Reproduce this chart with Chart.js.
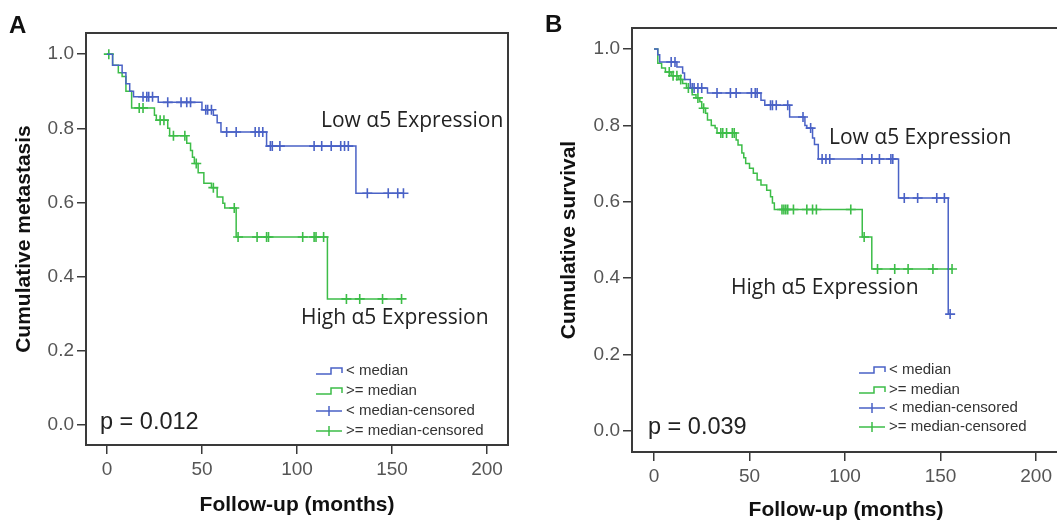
<!DOCTYPE html>
<html>
<head>
<meta charset="utf-8">
<script src="https://cdn.jsdelivr.net/npm/chart.js@4/dist/chart.umd.min.js"></script>
<style>
  html, body { margin: 0; padding: 0; background: #fff; overflow: hidden; }
  #wrap { position: relative; width: 1057px; height: 523px; overflow: hidden; }
  canvas { position: absolute; top: 0; }
  #chartA { left: 0; }
  #chartB { left: 530px; }
</style>
</head>
<body>
<div id="wrap">
  <canvas id="chartA" width="530" height="523"></canvas>
  <canvas id="chartB" width="530" height="523"></canvas>
</div>
<script>
// axis ticks
const xTicks = [0, 50, 100, 150, 200];
const yTicks = [0, 0.2, 0.4, 0.6, 0.8, 1.0];

// Panel A - metastasis, low expression (< median)
const aLowTimes = [0, 3, 8, 10, 12, 14, 27, 50, 56, 58, 60, 84, 131];
const aLowSurv = [1.0, 0.97, 0.95, 0.92, 0.90, 0.885, 0.87, 0.85, 0.835, 0.815, 0.79, 0.752, 0.625];
const aLowCensored = [19, 21, 22, 24, 32, 39, 42, 44, 52, 53, 55, 63, 68, 78, 80, 82, 86, 87, 91, 109, 113, 118, 123, 125, 127, 137, 148, 153, 156];

// Panel A - high expression (>= median)
const aHighTimes = [0, 3, 6, 8, 10, 13, 25, 26, 32, 33, 42, 44, 45, 46, 48, 51, 55, 58, 61, 62, 68, 116];
const aHighSurv = [1.0, 0.97, 0.95, 0.94, 0.90, 0.855, 0.835, 0.822, 0.80, 0.78, 0.76, 0.74, 0.722, 0.705, 0.68, 0.652, 0.64, 0.615, 0.598, 0.585, 0.507, 0.34];
const aHighCensored = [1, 17, 19, 28, 30, 35, 41, 47, 56, 67, 69, 79, 84, 85, 103, 109, 110, 114, 126, 133, 145, 155];

// Panel B - survival, low expression
const bLowTimes = [0, 2, 3, 12, 15, 16, 19, 28, 56, 58, 71, 79, 80, 83, 84, 86, 128, 154];
const bLowSurv = [1.0, 0.985, 0.966, 0.953, 0.937, 0.92, 0.898, 0.885, 0.866, 0.853, 0.822, 0.80, 0.793, 0.767, 0.75, 0.712, 0.61, 0.306];
const bLowCensored = [9, 11, 20, 21, 23, 25, 33, 40, 43, 51, 53, 54, 61, 62, 64, 70, 78, 82, 88, 90, 92, 109, 114, 118, 124, 125, 131, 138, 148, 152, 155];

// Panel B - high expression
const bHighTimes = [0, 2, 4, 6, 9, 13, 15, 17, 20, 22, 24, 25, 27, 28, 30, 32, 33, 43, 44, 46, 47, 48, 50, 52, 54, 56, 59, 61, 62, 63, 109, 114];
const bHighSurv = [1.0, 0.963, 0.95, 0.94, 0.93, 0.92, 0.91, 0.898, 0.88, 0.872, 0.862, 0.845, 0.832, 0.814, 0.80, 0.793, 0.78, 0.762, 0.749, 0.728, 0.715, 0.70, 0.688, 0.675, 0.657, 0.644, 0.63, 0.613, 0.597, 0.58, 0.508, 0.424];
const bHighCensored = [8, 10, 12, 14, 18, 23, 26, 35, 36, 38, 41, 42, 67, 68, 69, 70, 73, 80, 83, 85, 103, 110, 117, 126, 133, 146, 156];

const BLUE = '#4a62c6';
const GREEN = '#3dbd48';
const FRAME = '#3a3a3a';

// value of the step curve at time t
function survAt(times, surv, t) {
    let s = surv[0];
    for (let i = 0; i < times.length; i++) {
        if (times[i] <= t) s = surv[i];
    }
    return s;
}

function curvePoints(times, surv, censored) {
    const pts = times.map((t, i) => ({ x: t, y: surv[i] }));
    const end = Math.max(times[times.length - 1], censored[censored.length - 1]);
    pts.push({ x: end, y: surv[surv.length - 1] });
    return pts;
}

function censorPoints(times, surv, censored) {
    return censored.map(t => ({ x: t, y: survAt(times, surv, t) }));
}

// draws frame, panel letter, annotations and legend
const decorPlugin = {
    id: 'decor',
    afterDraw(chart) {
        const d = chart.options.plugins.decor;
        const ctx = chart.ctx;
        const a = chart.chartArea;
        ctx.save();
        ctx.strokeStyle = FRAME;
        ctx.lineWidth = 2;
        ctx.strokeRect(a.left, a.top, a.right - a.left, a.bottom - a.top);

        ctx.fillStyle = '#111';
        ctx.textBaseline = 'middle';
        ctx.textAlign = 'left';
        ctx.font = 'bold 24px "Liberation Sans", Arial, sans-serif';
        ctx.fillText(d.letter, d.letterX, d.letterY);

        ctx.fillStyle = '#222';
        ctx.font = '21px "Open Sans", sans-serif';
        ctx.fillText('Low \u03b15 Expression', d.lowX, d.lowY);
        ctx.fillText('High \u03b15 Expression', d.highX, d.highY);

        ctx.font = '23.5px "Liberation Sans", Arial, sans-serif';
        ctx.fillText(d.pText, d.pX, d.pY);

        // legend
        const items = [
            { text: '< median', color: BLUE, kind: 'step' },
            { text: '>= median', color: GREEN, kind: 'step' },
            { text: '< median-censored', color: BLUE, kind: 'cross' },
            { text: '>= median-censored', color: GREEN, kind: 'cross' }
        ];
        ctx.font = '15px "Liberation Sans", Arial, sans-serif';
        items.forEach((it, i) => {
            const y = d.legRows[i];
            const x0 = d.legX;
            ctx.strokeStyle = it.color;
            ctx.lineWidth = 1.5;
            ctx.beginPath();
            if (it.kind === 'step') {
                ctx.moveTo(x0, y + 3);
                ctx.lineTo(x0 + 15, y + 3);
                ctx.lineTo(x0 + 15, y - 3);
                ctx.lineTo(x0 + 26, y - 3);
                ctx.lineTo(x0 + 26, y + 2);
            } else {
                ctx.moveTo(x0, y);
                ctx.lineTo(x0 + 26, y);
                ctx.moveTo(x0 + 13, y - 5);
                ctx.lineTo(x0 + 13, y + 5);
            }
            ctx.stroke();
            ctx.fillStyle = '#333';
            ctx.fillText(it.text, x0 + 30, y);
        });
        ctx.restore();
    }
};

function makeChart(id, opts) {
    const datasets = [
        { type: 'line', data: curvePoints(opts.low.times, opts.low.surv, opts.low.censored), borderColor: BLUE },
        { type: 'line', data: curvePoints(opts.high.times, opts.high.surv, opts.high.censored), borderColor: GREEN },
        { type: 'scatter', data: censorPoints(opts.low.times, opts.low.surv, opts.low.censored), borderColor: BLUE },
        { type: 'scatter', data: censorPoints(opts.high.times, opts.high.surv, opts.high.censored), borderColor: GREEN }
    ].map(ds => Object.assign(ds, ds.type === 'line'
        ? { stepped: 'before', borderWidth: 1.5, pointRadius: 0, fill: false }
        : { pointStyle: 'cross', pointRadius: 5, borderWidth: 1.6, showLine: false }));

    const tickFont = { family: '"Liberation Sans", Arial, sans-serif', size: 19 };
    const titleFont = { family: '"Liberation Sans", Arial, sans-serif', size: 21, weight: 'bold' };

    return new Chart(document.getElementById(id), {
        data: { datasets },
        plugins: [decorPlugin],
        options: {
            responsive: false,
            animation: false,
            devicePixelRatio: 1,
            layout: { autoPadding: false, padding: { top: opts.padTop, right: opts.padRight, left: 0, bottom: 0 } },
            plugins: {
                legend: { display: false },
                tooltip: { enabled: false },
                decor: opts.decor
            },
            scales: {
                x: {
                    type: 'linear',
                    min: opts.xMin, max: opts.xMax,
                    afterBuildTicks: s => { s.ticks = xTicks.map(v => ({ value: v })); },
                    afterFit: s => { s.height = opts.xAxisH; s.paddingLeft = 0; s.paddingRight = 0; },
                    ticks: { color: '#555', font: tickFont, padding: 4, autoSkip: false, maxRotation: 0 },
                    grid: { drawOnChartArea: false, drawTicks: true, tickLength: 9, color: FRAME, lineWidth: 1.5 },
                    border: { display: true, color: FRAME, width: 2 },
                    title: { display: true, text: 'Follow-up (months)', color: '#111', font: titleFont, padding: { top: 0, bottom: opts.xTitlePad } }
                },
                y: {
                    type: 'linear',
                    min: opts.yMin, max: opts.yMax,
                    afterBuildTicks: s => { s.ticks = yTicks.map(v => ({ value: v })); },
                    afterFit: s => { s.width = opts.yAxisW; s.paddingTop = 0; s.paddingBottom = 0; },
                    ticks: { color: '#555', font: tickFont, padding: 3, callback: v => v.toFixed(1) },
                    grid: { drawOnChartArea: false, drawTicks: true, tickLength: 9, color: FRAME, lineWidth: 1.5 },
                    border: { display: true, color: FRAME, width: 2 },
                    title: { display: true, text: opts.yTitle, color: '#111', font: titleFont, padding: { top: opts.yTitlePad, bottom: 0 } }
                }
            }
        }
    });
}

makeChart('chartA', {
    low: { times: aLowTimes, surv: aLowSurv, censored: aLowCensored },
    high: { times: aHighTimes, surv: aHighSurv, censored: aHighCensored },
    xMin: -11, xMax: 211, yMin: -0.054, yMax: 1.057,
    padTop: 33, padRight: 22, yAxisW: 86, xAxisH: 78,
    xTitlePad: 5, yTitlePad: 12,
    yTitle: 'Cumulative metastasis',
    decor: {
        letter: 'A', letterX: 9, letterY: 26,
        lowX: 321, lowY: 121, highX: 301, highY: 318,
        pText: 'p = 0.012', pX: 100, pY: 423,
        legX: 316, legRows: [371, 391, 411, 431]
    }
});

makeChart('chartB', {
    low: { times: bLowTimes, surv: bLowSurv, censored: bLowCensored },
    high: { times: bHighTimes, surv: bHighSurv, censored: bHighCensored },
    xMin: -11.5, xMax: 212.5, yMin: -0.055, yMax: 1.055,
    padTop: 28, padRight: 0, yAxisW: 102, xAxisH: 71,
    xTitlePad: 0, yTitlePad: 27,
    yTitle: 'Cumulative survival',
    decor: {
        letter: 'B', letterX: 15, letterY: 25,
        lowX: 299, lowY: 138, highX: 201, highY: 288,
        pText: 'p = 0.039', pX: 118, pY: 428,
        legX: 329, legRows: [370, 390, 408, 427]
    }
});
</script>
</body>
</html>
